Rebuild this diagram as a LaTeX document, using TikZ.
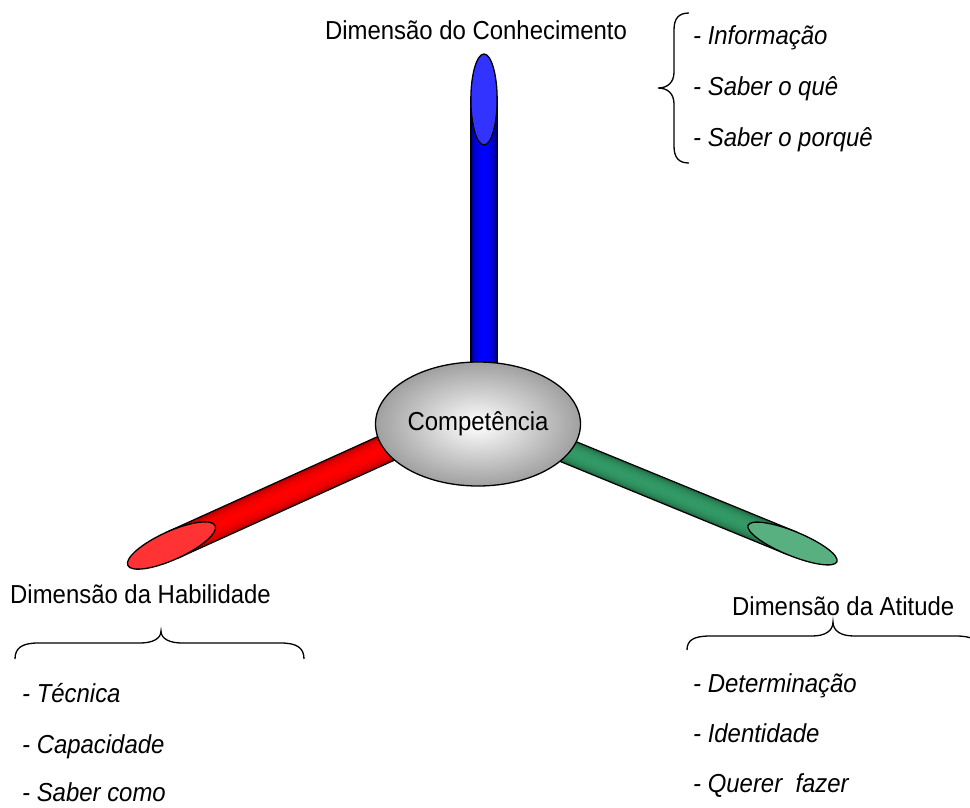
\documentclass[tikz,border=0pt]{standalone}
\usepackage{fontspec}
\setmainfont{Liberation Sans}[FakeStretch=0.92]
\usetikzlibrary{shapes.geometric,backgrounds}
\definecolor{blueD}{RGB}{0,0,105}
\definecolor{blueB}{RGB}{0,0,255}
\definecolor{blueC}{RGB}{51,51,255}
\definecolor{redD}{RGB}{165,0,0}
\definecolor{redB}{RGB}{255,0,0}
\definecolor{redC}{RGB}{255,51,51}
\definecolor{greenD}{RGB}{30,95,60}
\definecolor{greenB}{RGB}{50,154,102}
\definecolor{greenC}{RGB}{88,176,128}
\definecolor{compOut}{RGB}{160,160,160}
\newcommand\drawtube[5]{%
  \pgfmathsetmacro\tubeow{#3+2.6}%
  \draw[line width=\tubeow pt, black] (#1) -- (#2);
  \foreach \k in {0,...,16}{%
    \pgfmathsetmacro\tubew{#3*(1-\k/17)}%
    \pgfmathsetmacro\tubep{100*sqrt(1-(1-\k/17)^2)}%
    \draw[line width=\tubew pt, color=#5!\tubep!#4] (#1) -- (#2);
  }}
\begin{document}
\begin{tikzpicture}[x=1pt,y=-1pt,
  lbl/.style={font=\fontsize{26}{30}\selectfont, inner sep=0pt, text=black},
  itm/.style={font=\fontsize{26}{30}\selectfont\itshape, inner sep=0pt, anchor=base west, text=black},
  capnode/.style={ellipse, draw=black, line width=1.3pt, inner sep=0pt},
  bracestyle/.style={draw=black, line width=1.3pt}]
\useasboundingbox (0,0) rectangle (970,807);

% cylinder caps
\node[capnode, fill=blueC, minimum width=26.3, minimum height=91] (capB) at (484,99.5) {};
\node[capnode, fill=redC, minimum width=96, minimum height=28.3, rotate=24.4] (capR) at (171.5,545.5) {};
\node[capnode, fill=greenC, minimum width=96, minimum height=24.3, rotate=-22.3] (capG) at (792.5,543.5) {};

% centre
\node[ellipse, draw=black, line width=1.3pt, inner color=white, outer color=compOut,
      minimum width=205, minimum height=124, inner sep=0pt,
      font=\fontsize{26}{30}\selectfont] (comp) at (478,424) {Competência};

\coordinate (B1) at (484,400);
\coordinate (R1) at (420,433);
\coordinate (G1) at (540,440);

\begin{scope}[on background layer]
  \drawtube{capB.center}{B1}{25}{blueD}{blueB}
  \drawtube{capR.center}{R1}{27}{redD}{redB}
  \drawtube{capG.center}{G1}{23}{greenD}{greenB}
\end{scope}

% titles
\node[lbl, anchor=base] (tConh) at (476,39.5) {Dimensão do Conhecimento};
\node[lbl, anchor=base west] (tHab) at (10,603) {Dimensão da Habilidade};
\node[lbl, anchor=base west] (tAtt) at (732,615) {Dimensão da Atitude};

% items
\node[itm] (k1) at (693,44) {- Informação};
\node[itm] (k2) at (693,95) {- Saber o quê};
\node[itm] (k3) at (693,146) {- Saber o porquê};
\node[itm] (h1) at (22,702) {- Técnica};
\node[itm] (h2) at (22,753) {- Capacidade};
\node[itm] (h3) at (22,801) {- Saber como};
\node[itm] (a1) at (693,692) {- Determinação};
\node[itm] (a2) at (693,742) {- Identidade};
\node[itm] (a3) at (693,792) {- Querer\ \ fazer};

% braces
\draw[bracestyle] (689,13) .. controls (679,13) and (674,18) .. (674,30) -- (674,72)
  .. controls (674,82) and (668,88) .. (658,88)
  .. controls (668,88) and (674,94) .. (674,104) -- (674,146)
  .. controls (674,158) and (679,163) .. (689,163);
\draw[bracestyle] (15,659) .. controls (15,648) and (22,643) .. (38,643) -- (140,643)
  .. controls (152,643) and (161,639) .. (161,631)
  .. controls (161,639) and (170,643) .. (182,643) -- (281,643)
  .. controls (297,643) and (304,648) .. (304,659);
\draw[bracestyle] (687,650) .. controls (687,640) and (694,636) .. (710,636) -- (812,636)
  .. controls (825,636) and (833,631) .. (833,622)
  .. controls (833,631) and (841,636) .. (854,636) -- (956,636)
  .. controls (972,636) and (979,640) .. (979,650);
\end{tikzpicture}
\end{document}
